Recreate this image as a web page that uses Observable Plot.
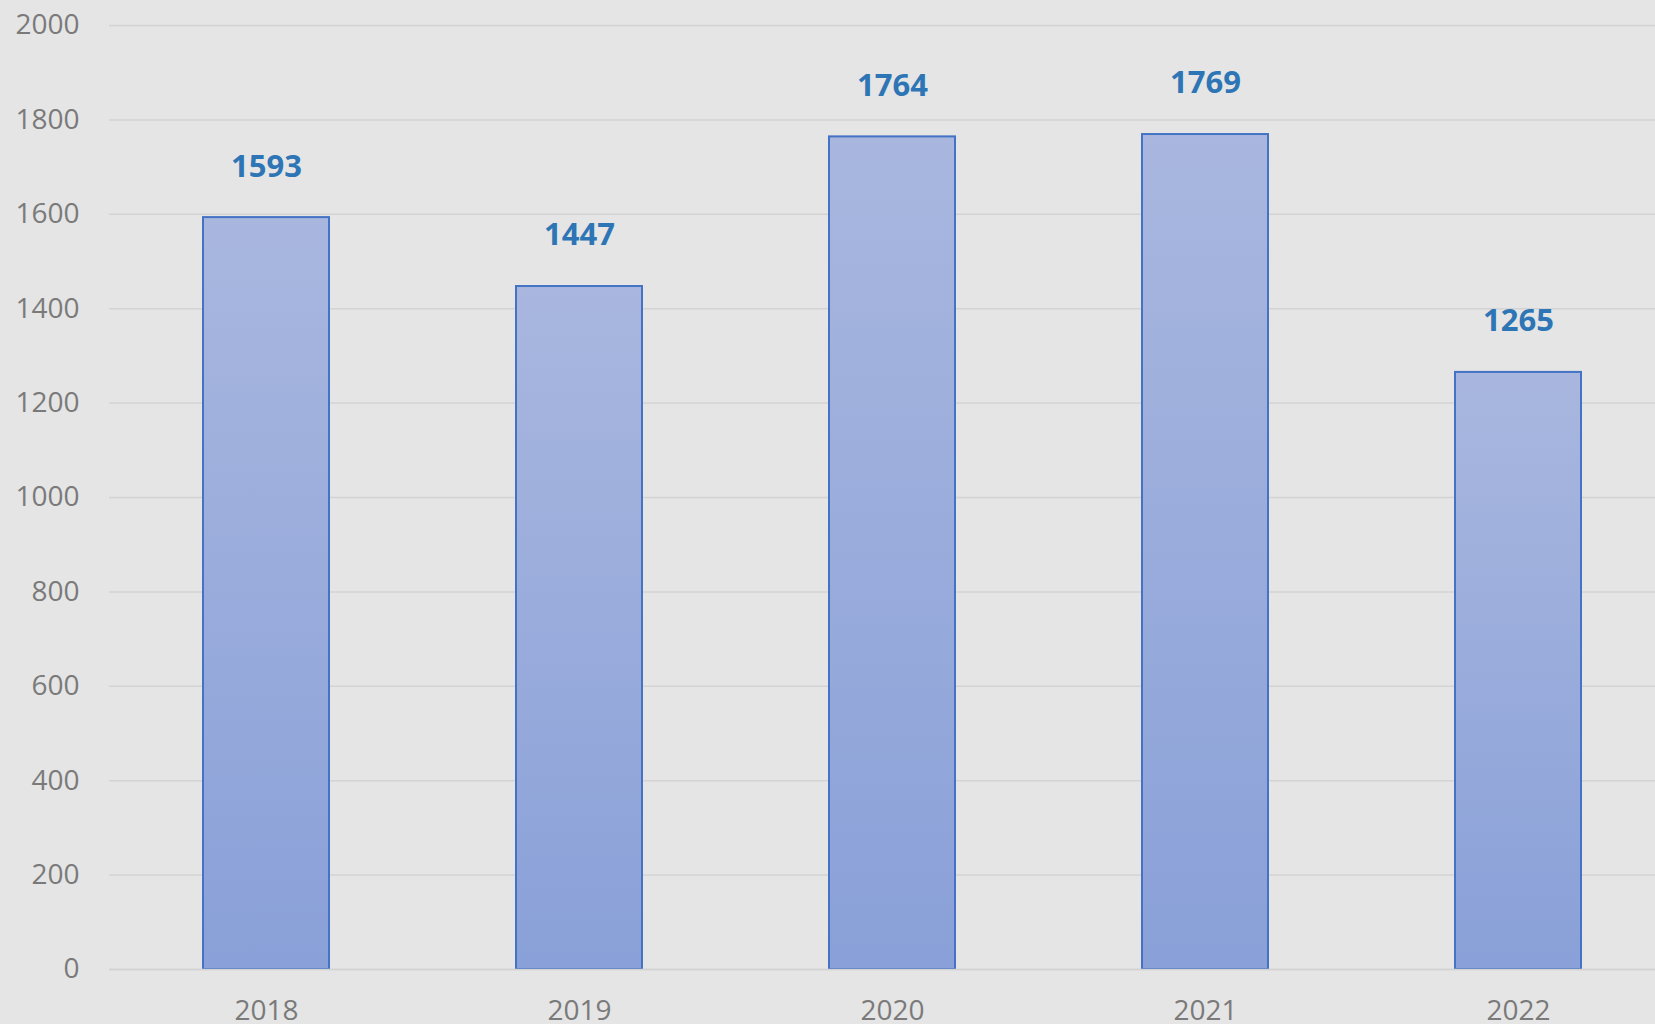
<!DOCTYPE html>
<html>
<head>
<meta charset="utf-8">
<script src="https://cdn.jsdelivr.net/npm/d3@7"></script>
<script src="https://cdn.jsdelivr.net/npm/@observablehq/plot@0.6"></script>
<style>
  html, body { margin: 0; padding: 0; background: #e5e5e5; overflow: hidden; }
  #chart svg { display: block; }
</style>
</head>
<body>
<div id="chart"></div>
<script>
const years = ["2018", "2019", "2020", "2021", "2022"];
const counts = [1593, 1447, 1764, 1769, 1265];
const yTicks = [0, 200, 400, 600, 800, 1000, 1200, 1400, 1600, 1800, 2000];

const data = years.map((y, i) => ({year: y, value: counts[i]}));

const chart = Plot.plot({
  width: 1655,
  height: 1024,
  marginTop: 25,
  marginBottom: 55,
  marginLeft: 109,
  marginRight: 0,
  style: {background: "#e5e5e5", fontFamily: "'Open Sans', 'Noto Sans', sans-serif", overflow: "hidden"},
  x: {domain: years, range: [109.5, 1674.5], paddingInner: 0.597, paddingOuter: 0.2985, label: null},
  y: {domain: [0, 2000], label: null},
  marks: [
    Plot.gridY(yTicks, {stroke: "#d3d3d3", strokeOpacity: 1, strokeWidth: 1.5}),
    Plot.axisY(yTicks, {tickSize: 0, tickPadding: 30, fontSize: 28, fill: "#7a7a7a", tickFormat: d => String(d)}),
    Plot.axisX({tickSize: 0, tickPadding: 31, fontSize: 28, fill: "#7a7a7a"}),
    Plot.barY(data, {x: "year", y: "value", fill: "url(#barGrad)", stroke: "#4472c4", strokeWidth: 2}),
    Plot.ruleY([0], {stroke: "#d3d3d3", strokeWidth: 1.5}),
    Plot.text(data, {x: "year", y: "value", text: d => String(d.value), lineAnchor: "middle", dy: -51,
      fontSize: 31, fontWeight: "bold", fill: "#2e75b6"})
  ]
});

const svg = d3.select(chart);
const defs = svg.insert("defs", ":first-child");
const grad = defs.append("linearGradient")
  .attr("id", "barGrad")
  .attr("x1", 0).attr("y1", 0).attr("x2", 0).attr("y2", 1);
grad.append("stop").attr("offset", "0%").attr("stop-color", "#a9b7df");
grad.append("stop").attr("offset", "100%").attr("stop-color", "#89a0d8");

document.getElementById("chart").appendChild(chart);
</script>
</body>
</html>
